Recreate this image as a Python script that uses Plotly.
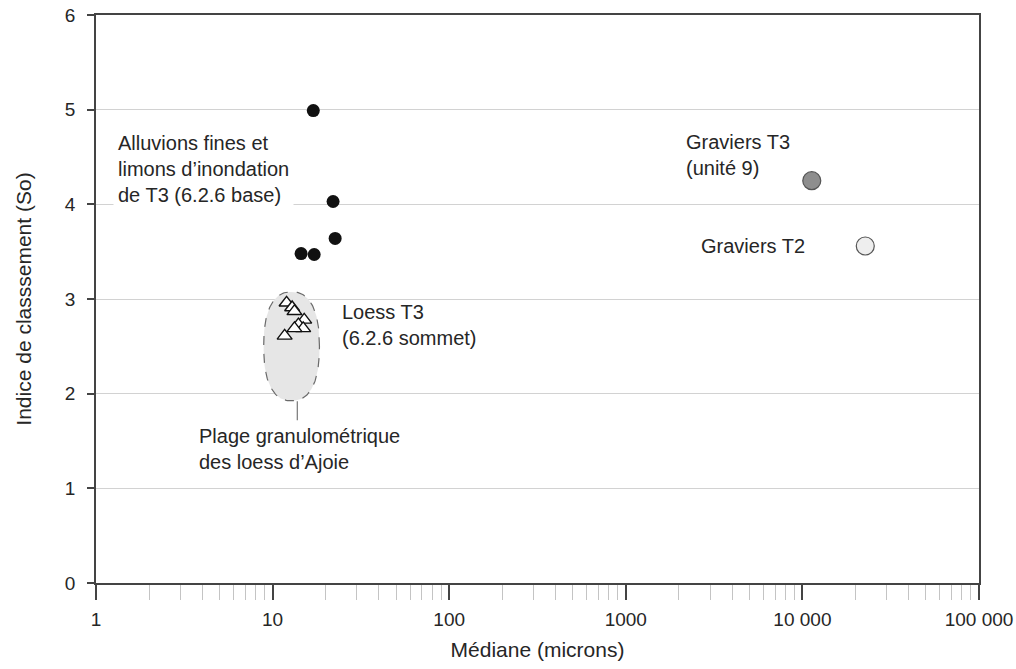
import numpy as np
import plotly.graph_objects as go

# ---- data ----
alluvions_x = [17.0, 22.0, 22.6, 14.5, 17.2]
alluvions_y = [4.99, 4.03, 3.64, 3.48, 3.47]

loess_x = [12.0, 12.9, 13.3, 15.1, 14.0, 14.9, 13.3, 11.7]
loess_y = [2.96, 2.91, 2.87, 2.78, 2.73, 2.69, 2.69, 2.61]

gravT3_x = [11300]
gravT3_y = [4.25]
gravT2_x = [22700]
gravT2_y = [3.56]

# loess range envelope (centre / half-widths in log10 micron, So)
env_cx, env_rx = 12.8, 0.158
env_cy, env_ry = 2.50, 0.575
leader_x = [13.8, 13.8]
leader_y = [1.92, 1.72]

major_ticks = [1, 10, 100, 1000, 10000, 100000]
major_text = ["1", "10", "100", "1000", "10 000", "100 000"]
minor_ticks = [m * 10 ** d for d in range(5) for m in range(2, 10)]

# ---- layout geometry ----
W, H = 1016, 669
L, R, T, B = 96, 979, 15, 583
FONT = "Liberation Sans, Arial, Helvetica, sans-serif"
TXT = "#262626"


def px(x):
    return (x - L) / (R - L)


def py(y):
    return (B - y) / (B - T)


fig = go.Figure()

# envelope
t = np.linspace(0, 2 * np.pi, 200)
p = 2.4
c, s = np.cos(t), np.sin(t)
ex = np.log10(env_cx) + env_rx * np.sign(c) * np.abs(c) ** (2 / p)
ey = env_cy + env_ry * np.sign(s) * np.abs(s) ** (2 / p)
fig.add_trace(go.Scatter(x=10 ** ex, y=ey, mode="lines", fill="toself",
                         fillcolor="#e6e6e6",
                         line=dict(color="#6a6a6a", width=1.2, dash="dash"),
                         hoverinfo="skip", showlegend=False))
fig.add_trace(go.Scatter(x=leader_x, y=leader_y, mode="lines",
                         line=dict(color="#777777", width=1.2),
                         hoverinfo="skip", showlegend=False))

fig.add_trace(go.Scatter(x=loess_x, y=loess_y, mode="markers",
                         marker=dict(symbol="triangle-up", size=13, color="white",
                                     line=dict(color="#111111", width=1.4)),
                         showlegend=False))
fig.add_trace(go.Scatter(x=alluvions_x, y=alluvions_y, mode="markers",
                         marker=dict(symbol="circle", size=13, color="#111111",
                                     line=dict(width=0)),
                         showlegend=False))
fig.add_trace(go.Scatter(x=gravT3_x, y=gravT3_y, mode="markers",
                         marker=dict(symbol="circle", size=18, color="#8e8e8e",
                                     line=dict(color="#555555", width=1.2)),
                         showlegend=False))
fig.add_trace(go.Scatter(x=gravT2_x, y=gravT2_y, mode="markers",
                         marker=dict(symbol="circle", size=18, color="#eeeeee",
                                     line=dict(color="#555555", width=1.2)),
                         showlegend=False))

annots = [
    dict(text="Alluvions fines et<br>limons d’inondation<br>de T3 (6.2.6 base)",
         x=px(113), y=py(169), xanchor="left", yanchor="middle",
         bgcolor="white", borderpad=4),
    dict(text="Graviers T3<br>(unité 9)", x=px(684), y=py(155),
         xanchor="left", yanchor="middle"),
    dict(text="Graviers T2", x=px(807), y=py(246), xanchor="right", yanchor="middle"),
    dict(text="Loess T3<br>(6.2.6 sommet)", x=px(340), y=py(325),
         xanchor="left", yanchor="middle"),
    dict(text="Plage granulométrique<br>des loess d’Ajoie", x=px(197), y=py(449),
         xanchor="left", yanchor="middle"),
]
for a in annots:
    fig.add_annotation(xref="paper", yref="paper", showarrow=False, align="left",
                       font=dict(family=FONT, size=20, color=TXT), **a)

fig.update_layout(
    width=W, height=H,
    margin=dict(l=L, r=W - R, t=T, b=H - B),
    paper_bgcolor="white", plot_bgcolor="white",
    font=dict(family=FONT, color=TXT, size=20),
    xaxis=dict(
        type="log", range=[0, 5], automargin=False, ticklabeloverflow="allow",
        tickmode="array", tickvals=major_ticks, ticktext=major_text,
        ticks="outside", ticklen=15, tickwidth=1.5, tickcolor="#444444",
        showline=True, linecolor="#444444", linewidth=1.5, mirror=True,
        showgrid=False, zeroline=False,
        tickfont=dict(size=19, color=TXT), ticklabelstandoff=3,
        minor=dict(tickmode="array", tickvals=minor_ticks, ticks="outside",
                   ticklen=15, tickwidth=1, tickcolor="#c4c4c4", showgrid=False),
        title=dict(text="Médiane (microns)", font=dict(size=21, color=TXT), standoff=14),
    ),
    yaxis=dict(
        range=[0, 6], dtick=1, tick0=0, automargin=False, ticklabeloverflow="allow",
        ticks="outside", ticklen=7, tickwidth=1.5, tickcolor="#444444",
        showline=True, linecolor="#444444", linewidth=1.5, mirror=True,
        showgrid=True, gridcolor="#d2d2d2", gridwidth=1.2, zeroline=False,
        tickfont=dict(size=19, color=TXT), ticklabelstandoff=8,
        title=dict(text="Indice de classsement (So)", font=dict(size=21, color=TXT),
                   standoff=28),
    ),
)

fig.write_html("out.html",
               config={"displayModeBar": False},
               post_script="document.body.style.margin='0px';"
                           "document.body.style.overflow='hidden';")
